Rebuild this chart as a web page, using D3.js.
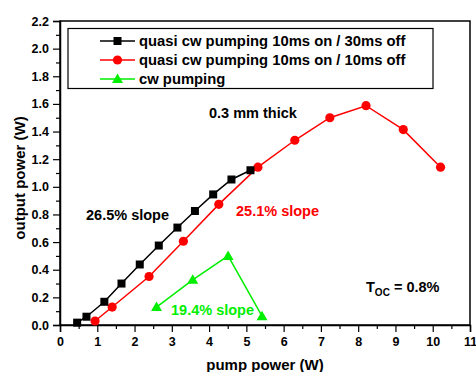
<!DOCTYPE html>
<html lang="en">
<head>
  <meta charset="UTF-8" />
  <title>Output power vs pump power</title>
  <script src="https://d3js.org/d3.v7.min.js"></script>
  <style>
    body { margin: 0; background: #fff; }
    svg { display: block; font-family: Arial, "Liberation Sans", sans-serif; font-weight: bold; }
  </style>
</head>
<body>
  <svg width="476" height="372"></svg>
  <script>
    // pump power (W) / output power (W)
    const quasi30Pump = [0.46, 0.71, 1.19, 1.65, 2.14, 2.65, 3.15, 3.62, 4.11, 4.60, 5.11];
    const quasi30Out  = [0.017, 0.06, 0.168, 0.30, 0.438, 0.575, 0.705, 0.825, 0.945, 1.053, 1.12];

    const quasi10Pump = [0.94, 1.40, 2.39, 3.31, 4.26, 5.31, 6.30, 7.24, 8.21, 9.21, 10.21];
    const quasi10Out  = [0.029, 0.13, 0.351, 0.606, 0.873, 1.142, 1.337, 1.50, 1.587, 1.414, 1.142];

    const cwPump = [2.59, 3.56, 4.51, 5.42];
    const cwOut  = [0.13, 0.327, 0.50, 0.064];

    const seriesNames = [
      "quasi cw pumping 10ms on / 30ms off",
      "quasi cw pumping 10ms on / 10ms off",
      "cw pumping"
    ];
    const xTicks = [0, 1, 2, 3, 4, 5, 6, 7, 8, 9, 10, 11];
    const yTicks = [0.0, 0.2, 0.4, 0.6, 0.8, 1.0, 1.2, 1.4, 1.6, 1.8, 2.0, 2.2];

    const series = [
      { name: seriesNames[0], color: "#000", shape: "square", pump: quasi30Pump, out: quasi30Out },
      { name: seriesNames[1], color: "#ff0000", shape: "circle", pump: quasi10Pump, out: quasi10Out },
      { name: seriesNames[2], color: "#00ee00", shape: "triangle", pump: cwPump, out: cwOut }
    ];

    const svg = d3.select("svg");
    const mLeft = 60, mRight = 470, mTop = 21, mBottom = 325;

    const x = d3.scaleLinear().domain([0, 11]).range([mLeft, mRight]);
    const y = d3.scaleLinear().domain([0, 2.2]).range([mBottom, mTop]);

    // frame
    svg.append("rect")
      .attr("x", mLeft).attr("y", mTop)
      .attr("width", mRight - mLeft).attr("height", mBottom - mTop)
      .attr("fill", "none").attr("stroke", "#000").attr("stroke-width", 1.5);

    // minor ticks
    svg.append("g")
      .attr("transform", `translate(0,${mBottom})`)
      .call(d3.axisBottom(x).tickValues(d3.range(0.5, 11, 1)).tickSize(4).tickFormat(""))
      .call(g => g.select(".domain").remove());
    svg.append("g")
      .attr("transform", `translate(${mLeft},0)`)
      .call(d3.axisLeft(y).tickValues(d3.range(0.1, 2.2, 0.2)).tickSize(4).tickFormat(""))
      .call(g => g.select(".domain").remove());

    // major ticks
    const xAxis = svg.append("g")
      .attr("transform", `translate(0,${mBottom})`)
      .call(d3.axisBottom(x).tickValues(xTicks).tickSize(7).tickPadding(5).tickFormat(d3.format("d")));
    const yAxis = svg.append("g")
      .attr("transform", `translate(${mLeft},0)`)
      .call(d3.axisLeft(y).tickValues(yTicks).tickSize(7).tickPadding(4).tickFormat(d3.format(".1f")));

    [xAxis, yAxis].forEach(a => {
      a.select(".domain").attr("stroke-width", 1.5);
      a.selectAll("text").attr("font-size", 12.5).attr("font-weight", "bold").attr("fill", "#000")
        .attr("font-family", "Arial, 'Liberation Sans', sans-serif");
    });
    svg.selectAll(".tick line").attr("stroke", "#000").attr("stroke-width", 1.2);

    // marker helper
    function marker(g, shape, color, cx, cy) {
      if (shape === "square") {
        g.append("rect").attr("x", cx - 4).attr("y", cy - 4).attr("width", 8).attr("height", 8).attr("fill", color);
      } else if (shape === "circle") {
        g.append("circle").attr("cx", cx).attr("cy", cy).attr("r", 4.6).attr("fill", color);
      } else {
        g.append("path").attr("d", `M${cx},${cy - 5.5}L${cx + 5.5},${cy + 4}L${cx - 5.5},${cy + 4}Z`).attr("fill", color);
      }
    }

    const line = d3.line().x(d => x(d[0])).y(d => y(d[1]));

    // draw red first, black over, green
    [series[1], series[0], series[2]].forEach(s => {
      const pts = s.pump.map((p, i) => [p, s.out[i]]);
      const g = svg.append("g");
      g.append("path").attr("d", line(pts)).attr("fill", "none")
        .attr("stroke", s.color).attr("stroke-width", 1.5);
      pts.forEach(p => marker(g, s.shape, s.color, x(p[0]), y(p[1])));
    });

    // legend
    const lg = svg.append("g");
    lg.append("rect").attr("x", 68).attr("y", 28.5).attr("width", 365).attr("height", 60)
      .attr("fill", "#fff").attr("stroke", "#000").attr("stroke-width", 1.2);
    series.forEach((s, i) => {
      const ly = 41 + i * 19;
      lg.append("line").attr("x1", 100).attr("x2", 135).attr("y1", ly).attr("y2", ly)
        .attr("stroke", s.color).attr("stroke-width", 1.5);
      marker(lg, s.shape, s.color, 117.5, ly);
      lg.append("text").attr("x", 139).attr("y", ly + 5).attr("font-size", 14.8)
        .attr("fill", "#000").text(s.name);
    });

    // annotations
    const note = (tx, ty, str, color) => svg.append("text").attr("x", tx).attr("y", ty)
      .attr("font-size", 14.5).attr("fill", color).text(str);
    note(209, 118, "0.3 mm thick", "#000");
    note(86, 220, "26.5% slope", "#000");
    note(236, 216, "25.1% slope", "#ff0000");
    note(171, 315, "19.4% slope", "#00ee00");

    const toc = svg.append("text").attr("x", 366).attr("y", 292).attr("font-size", 14.5).attr("fill", "#000");
    toc.append("tspan").text("T");
    toc.append("tspan").attr("font-size", 10).attr("dy", 4).text("OC");
    toc.append("tspan").attr("dy", -4).text(" = 0.8%");

    // axis titles
    svg.append("text").attr("x", 265).attr("y", 370).attr("text-anchor", "middle")
      .attr("font-size", 15).attr("fill", "#000").text("pump power (W)");
    svg.append("text").attr("transform", "translate(25,178) rotate(-90)").attr("text-anchor", "middle")
      .attr("font-size", 15).attr("fill", "#000").text("output power (W)");
  </script>
</body>
</html>
